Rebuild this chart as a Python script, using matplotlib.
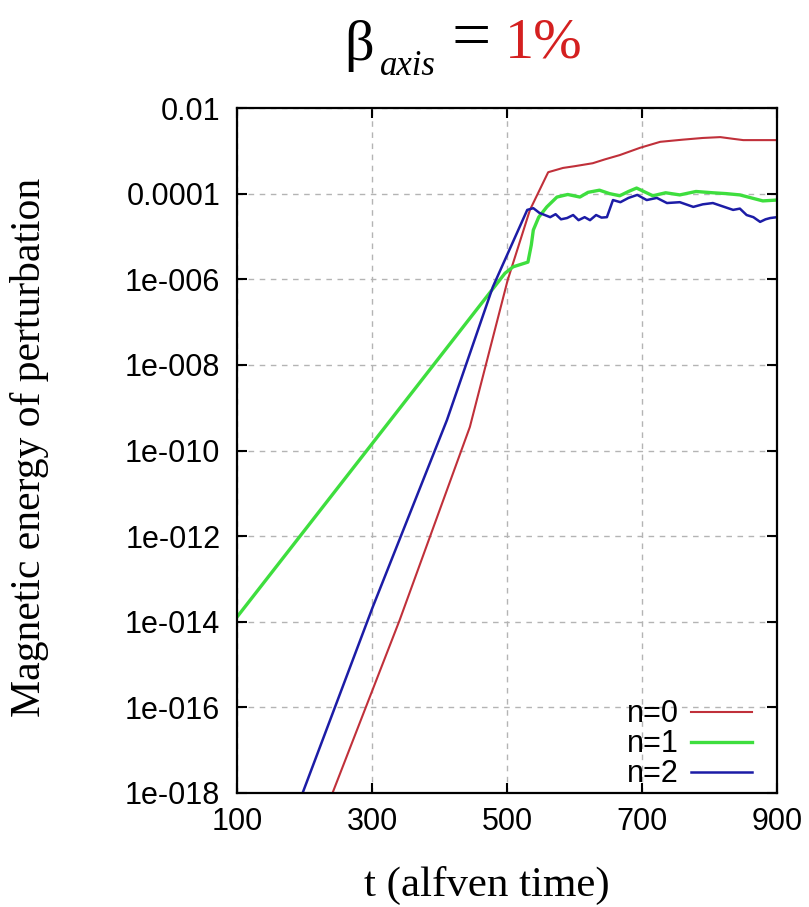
import matplotlib.pyplot as plt
from matplotlib.ticker import NullLocator
import numpy as np

plt.rcParams['font.family'] = ['Liberation Sans', 'DejaVu Sans']

# values: time and log10 of the magnetic energy
t_n0 = [242, 341, 445, 501, 534, 561, 583, 600, 627, 645, 667, 697, 727, 760, 790, 816, 835, 850, 900]
logE_n0 = [-17.98, -13.96, -9.45, -6.02, -4.38, -3.50, -3.40, -3.36, -3.29, -3.20, -3.10, -2.93,
           -2.79, -2.74, -2.70, -2.68, -2.72, -2.75, -2.75]

t_n1 = [100, 497, 509, 531, 536, 539, 547, 559, 574, 590, 608, 620, 637, 652, 667, 680, 692,
        704, 716, 735, 756, 780, 805, 825, 845, 862, 879, 900]
logE_n1 = [-13.89, -5.86, -5.71, -5.60, -5.20, -4.85, -4.55, -4.31, -4.08, -4.02, -4.08, -3.97,
           -3.92, -4.00, -4.05, -3.95, -3.87, -3.96, -4.05, -3.98, -4.03, -3.95, -3.98, -4.00,
           -4.03, -4.10, -4.17, -4.15]

t_n2 = [196, 301, 411, 479, 530, 539, 548, 556, 564, 572, 580, 589, 598, 606, 615, 623, 632,
        640, 648, 657, 668, 680, 693, 707, 722, 737, 756, 776, 790, 805, 820, 835, 845, 855,
        865, 875, 883, 890, 900]
logE_n2 = [-18.05, -13.66, -9.29, -6.18, -4.38, -4.34, -4.45, -4.50, -4.55, -4.48, -4.60, -4.57,
           -4.50, -4.62, -4.55, -4.62, -4.50, -4.56, -4.55, -4.15, -4.20, -4.10, -4.03, -4.15,
           -4.10, -4.22, -4.20, -4.31, -4.25, -4.22, -4.30, -4.38, -4.35, -4.50, -4.55, -4.66,
           -4.60, -4.57, -4.55]

xticks = [100, 300, 500, 700, 900]
yticks = [1e-18, 1e-16, 1e-14, 1e-12, 1e-10, 1e-8, 1e-6, 1e-4, 1e-2]
ytick_labels = ['1e-018', '1e-016', '1e-014', '1e-012', '1e-010', '1e-008', '1e-006', '0.0001', '0.01']

W, H = 809, 907
fig = plt.figure(figsize=(W / 100, H / 100), dpi=100)
ax = fig.add_axes([237 / W, 1 - 793 / H, (777 - 237) / W, (793 - 108) / H])

ax.semilogy(t_n0, 10.0 ** np.array(logE_n0), color='#c0303a', lw=1.5, label='n=0')
ax.semilogy(t_n1, 10.0 ** np.array(logE_n1), color='#3ede3e', lw=2.4, label='n=1')
ax.semilogy(t_n2, 10.0 ** np.array(logE_n2), color='#1c1ca6', lw=1.8, label='n=2')

ax.set_xlim(100, 900)
ax.set_ylim(1e-18, 1e-2)
ax.set_xticks(xticks)
ax.set_xticklabels([str(v) for v in xticks])
ax.set_yticks(yticks)
ax.set_yticklabels(ytick_labels)
ax.yaxis.set_minor_locator(NullLocator())
ax.tick_params(direction='in', length=7, width=1.5, top=True, right=True, labelsize=22)
ax.tick_params(axis='y', pad=12)
ax.tick_params(axis='x', pad=10)
for s in ax.spines.values():
    s.set_linewidth(1.6)
ax.grid(True, color='#b4b4b4', ls=(0, (4, 4)), lw=1)

leg = ax.legend(loc='lower right', frameon=False, markerfirst=False, fontsize=22,
                handlelength=2.0, labelspacing=0.0, handletextpad=0.4,
                bbox_to_anchor=(1.005, -0.035))

fig.text(30 / W, 1 - 447 / H, 'Magnetic energy of perturbation', rotation=90,
         family='Liberation Serif', fontsize=30, ha='center', va='center')
fig.text(487 / W, 1 - 885 / H, 't (alfven time)', family='Liberation Serif',
         fontsize=31, ha='center', va='center')

# title: beta_axis = 1%
fig.text(344 / W, 1 - 60 / H, '\u03b2', family='Liberation Serif', fontsize=42, va='baseline')
fig.text(380 / W, 1 - 75 / H, 'axis', family='Liberation Serif', style='italic', fontsize=25, va='baseline')
fig.text(452 / W, 1 - 58 / H, '=', family='Liberation Serif', fontsize=50, va='baseline')
fig.text(505 / W, 1 - 58 / H, '1%', family='Liberation Serif', fontsize=42, va='baseline', color='#d42020')

fig.savefig('out.png', dpi=100)
